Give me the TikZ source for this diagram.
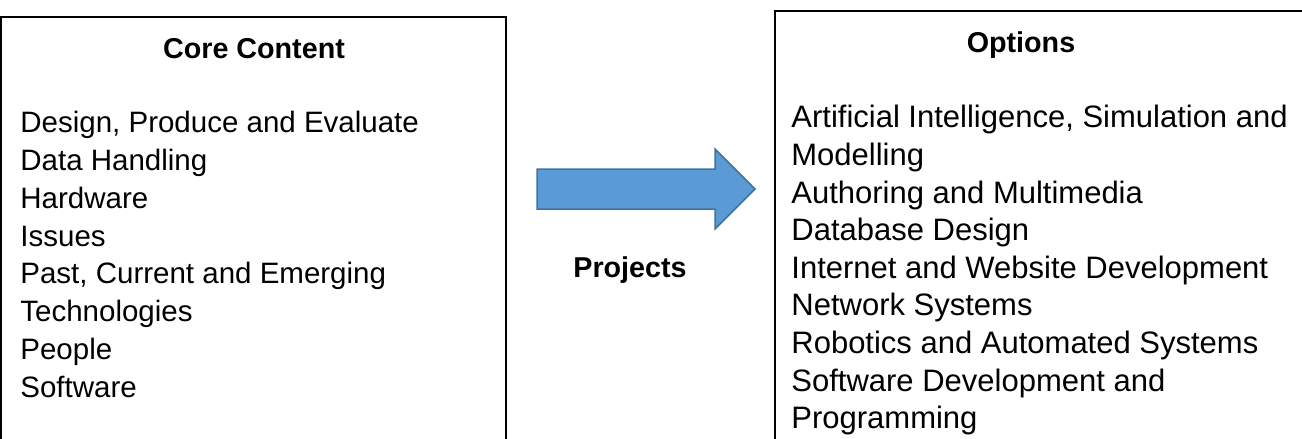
\documentclass[tikz,border=0pt]{standalone}
\usepackage{fontspec}
\setmainfont{Liberation Sans}
\usetikzlibrary{calc}

\definecolor{arrowblue}{RGB}{91,155,213}
\definecolor{arrowedge}{RGB}{65,113,156}

\tikzset{
    panel/.style={draw, line width=0.9pt},
    heading/.style={font=\fontsize{14.35}{17}\selectfont\bfseries, inner sep=0pt, anchor=base},
    itemlist/.style={align=left, inner sep=0pt, anchor=north west},
    blockarrow/.style={fill=arrowblue, draw=arrowedge, line width=0.75pt, line join=miter}
}

\begin{document}
\begin{tikzpicture}[x=0.5pt, y=-0.5pt]

        \useasboundingbox (0,0) rectangle (1302,439);
        \clip (0,0) rectangle (1302,439);

        % Core content box
        \draw[panel] (1,17) rectangle (506,480);
        \node[heading] (coretitle) at (254,58) {Core Content};
        \node[itemlist, font=\fontsize{14.75}{18.9}\selectfont] (corelist) at (20,111)
            {Design, Produce and Evaluate\\Data Handling\\Hardware\\Issues\\Past, Current and Emerging\\Technologies\\People\\Software};

        % Options box
        \draw[panel] (775,11) rectangle (1360,480);
        \node[heading] (optionstitle) at (1021,52) {Options};
        \node[itemlist, font=\fontsize{15.5}{18.8}\selectfont] (optionslist) at (791,105)
            {Artificial Intelligence, Simulation and\\Modelling\\Authoring and Multimedia\\Database Design\\Internet and Website Development\\Network Systems\\Robotics and Automated Systems\\Software Development and\\Programming};

        % Block arrow
        \coordinate (tail) at (537,189);
        \coordinate (tip) at (755,189);
        \draw[blockarrow] ($(tail)+(0,-20)$) -- (715,169) -- (715,149) -- (tip) -- (715,229) -- (715,209) -- ($(tail)+(0,20)$) -- cycle;

        % Label under the arrow
        \node[heading] (projects) at (630,277) {Projects};

    \end{tikzpicture}
\end{document}
